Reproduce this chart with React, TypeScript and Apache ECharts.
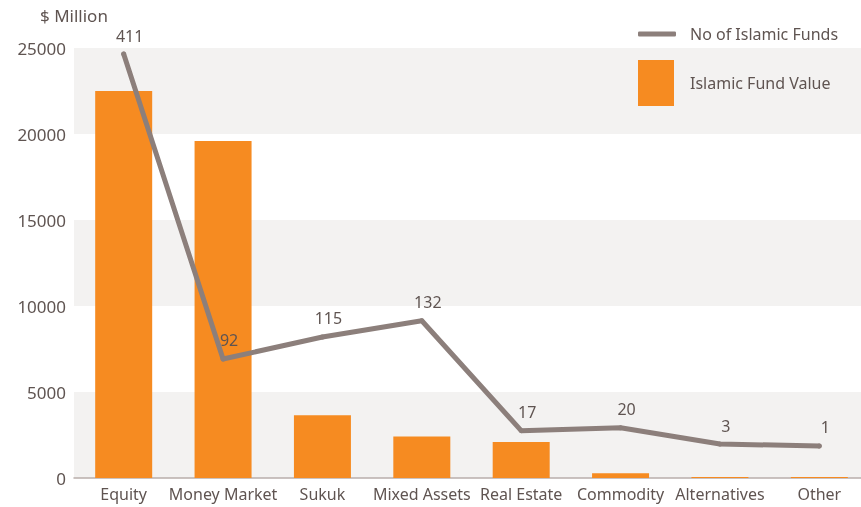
import React, { useEffect, useRef } from "react";
import * as echarts from "echarts";

const categories = ["Equity", "Money Market", "Sukuk", "Mixed Assets", "Real Estate", "Commodity", "Alternatives", "Other"];
const fundValues = [22500, 19600, 3650, 2420, 2100, 280, 60, 60];
const fundCounts = [411, 92, 115, 132, 17, 20, 3, 1];
const valueTicks = [0, 5000, 10000, 15000, 20000, 25000];

const TEXT = "#5f5451";
const FONT = "'Noto Sans', sans-serif";

export default function App() {
  const ref = useRef<HTMLDivElement>(null);
  useEffect(() => {
    if (!ref.current) return;
    const chart = echarts.init(ref.current, null, { renderer: "svg" });
    chart.setOption({
      animation: false,
      textStyle: { fontFamily: FONT, color: TEXT },
      grid: { left: 74, width: 795, top: 48, bottom: 29, containLabel: false, outerBoundsMode: "none" },
      graphic: [
        {
          type: "text",
          left: 40,
          top: 7,
          style: { text: "$ Million", fontSize: 17, fill: TEXT, fontFamily: FONT },
        },
      ],
      legend: [
        {
          data: ["No of Islamic Funds"],
          left: 638,
          top: 26,
          padding: 0,
          itemWidth: 38,
          itemHeight: 5,
          icon: "roundRect",
          itemStyle: { color: "#8c7f7b", opacity: 1 },
          textStyle: { fontSize: 16, color: TEXT, fontFamily: FONT, padding: [0, 0, 0, 9] },
        },
        {
          data: ["Islamic Fund Value"],
          left: 638,
          top: 60,
          padding: 0,
          itemWidth: 36,
          itemHeight: 46,
          icon: "rect",
          textStyle: { fontSize: 16, color: TEXT, fontFamily: FONT, padding: [0, 0, 0, 11] },
        },
      ],
      xAxis: {
        type: "category",
        data: categories,
        axisTick: { show: false },
        axisLine: { lineStyle: { color: "#b9aeab", width: 1.5 } },
        axisLabel: { fontSize: 16, color: TEXT, margin: 8, interval: 0, fontFamily: FONT },
      },
      yAxis: [
        {
          type: "value",
          min: valueTicks[0],
          max: valueTicks[valueTicks.length - 1],
          interval: 5000,
          axisLine: { show: false },
          axisTick: { show: false },
          splitLine: { show: false },
          splitArea: { show: true, areaStyle: { color: ["#f3f2f1", "#ffffff"] } },
          axisLabel: { fontSize: 17, color: TEXT, margin: 8, fontFamily: FONT, formatter: (v: number) => String(v) },
        },
        {
          type: "value",
          min: -32.5,
          max: 417.3,
          show: false,
          splitLine: { show: false },
        },
      ],
      series: [
        {
          name: "Islamic Fund Value",
          type: "bar",
          data: fundValues,
          barWidth: 57,
          itemStyle: { color: "#f68b21" },
          yAxisIndex: 0,
        },
        {
          name: "No of Islamic Funds",
          type: "line",
          data: fundCounts,
          yAxisIndex: 1,
          symbol: "circle",
          symbolSize: 5,
          showSymbol: true,
          lineStyle: { color: "#8c7f7b", width: 5, cap: "round", join: "round" },
          itemStyle: { color: "#8c7f7b" },
          label: {
            show: true,
            position: "top",
            distance: 8,
            offset: [6, 0],
            fontSize: 16,
            color: TEXT,
            fontFamily: FONT,
          },
        },
      ],
    });
    return () => chart.dispose();
  }, []);
  return (
    <div
      ref={ref}
      style={{ position: "fixed", left: 0, top: 0, width: 861, height: 507 }}
    />
  );
}
